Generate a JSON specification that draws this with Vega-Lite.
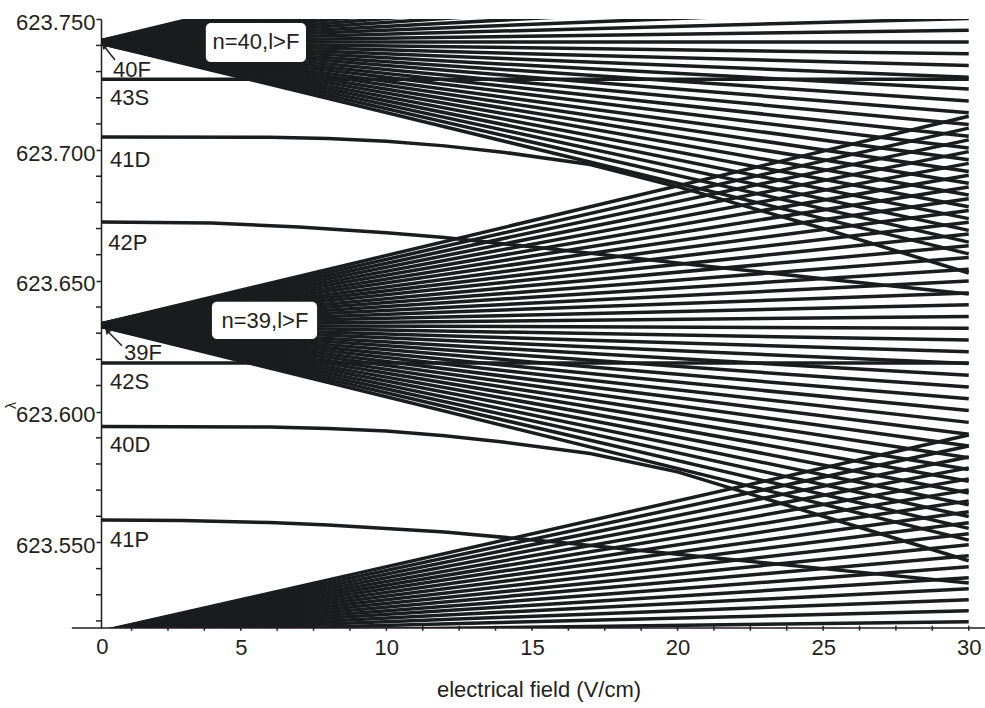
{
 "$schema": "https://vega.github.io/schema/vega-lite/v6.json",
 "width": 875, "height": 609,
 "autosize": {"type": "none"},
 "padding": {"left": 101, "top": 19, "right": 9, "bottom": 80},
 "background": "white",
 "config": {"view": {"stroke": null}, "font": "Liberation Sans"},
 "datasets": {
  "fan": [
   {"s":"a-18","F":0,"y":623.7413},{"s":"a-18","F":30,"y":623.6603},
   {"s":"a-17","F":0,"y":623.7413},{"s":"a-17","F":30,"y":623.6648},
   {"s":"a-16","F":0,"y":623.7413},{"s":"a-16","F":30,"y":623.6693},
   {"s":"a-15","F":0,"y":623.7413},{"s":"a-15","F":30,"y":623.6738},
   {"s":"a-14","F":0,"y":623.7413},{"s":"a-14","F":30,"y":623.6783},
   {"s":"a-13","F":0,"y":623.7413},{"s":"a-13","F":30,"y":623.6828},
   {"s":"a-12","F":0,"y":623.7413},{"s":"a-12","F":30,"y":623.6873},
   {"s":"a-11","F":0,"y":623.7413},{"s":"a-11","F":30,"y":623.6918},
   {"s":"a-10","F":0,"y":623.7413},{"s":"a-10","F":30,"y":623.6963},
   {"s":"a-9","F":0,"y":623.7413},{"s":"a-9","F":30,"y":623.7008},
   {"s":"a-8","F":0,"y":623.7413},{"s":"a-8","F":30,"y":623.7053},
   {"s":"a-7","F":0,"y":623.7413},{"s":"a-7","F":30,"y":623.7098},
   {"s":"a-6","F":0,"y":623.7413},{"s":"a-6","F":30,"y":623.7143},
   {"s":"a-5","F":0,"y":623.7413},{"s":"a-5","F":30,"y":623.7188},
   {"s":"a-4","F":0,"y":623.7413},{"s":"a-4","F":30,"y":623.7233},
   {"s":"a-3","F":0,"y":623.7413},{"s":"a-3","F":30,"y":623.7278},
   {"s":"a-2","F":0,"y":623.7413},{"s":"a-2","F":30,"y":623.7323},
   {"s":"a-1","F":0,"y":623.7413},{"s":"a-1","F":30,"y":623.7368},
   {"s":"a0","F":0,"y":623.7413},{"s":"a0","F":30,"y":623.7413},
   {"s":"a1","F":0,"y":623.7413},{"s":"a1","F":30,"y":623.7458},
   {"s":"a2","F":0,"y":623.7413},{"s":"a2","F":30,"y":623.7503},
   {"s":"a3","F":0,"y":623.7413},{"s":"a3","F":30,"y":623.7548},
   {"s":"a4","F":0,"y":623.7413},{"s":"a4","F":30,"y":623.7593},
   {"s":"a5","F":0,"y":623.7413},{"s":"a5","F":30,"y":623.7638},
   {"s":"a6","F":0,"y":623.7413},{"s":"a6","F":30,"y":623.7683},
   {"s":"a7","F":0,"y":623.7413},{"s":"a7","F":30,"y":623.7728},
   {"s":"a8","F":0,"y":623.7413},{"s":"a8","F":30,"y":623.7773},
   {"s":"a9","F":0,"y":623.7413},{"s":"a9","F":30,"y":623.7818},
   {"s":"a10","F":0,"y":623.7413},{"s":"a10","F":30,"y":623.7863},
   {"s":"a11","F":0,"y":623.7413},{"s":"a11","F":30,"y":623.7908},
   {"s":"a12","F":0,"y":623.7413},{"s":"a12","F":30,"y":623.7953},
   {"s":"a13","F":0,"y":623.7413},{"s":"a13","F":30,"y":623.7998},
   {"s":"a14","F":0,"y":623.7413},{"s":"a14","F":30,"y":623.8043},
   {"s":"a15","F":0,"y":623.7413},{"s":"a15","F":30,"y":623.8088},
   {"s":"a16","F":0,"y":623.7413},{"s":"a16","F":30,"y":623.8133},
   {"s":"a17","F":0,"y":623.7413},{"s":"a17","F":30,"y":623.8178},
   {"s":"a18","F":0,"y":623.7413},{"s":"a18","F":30,"y":623.8223},
   {"s":"b-18","F":0,"y":623.6331},{"s":"b-18","F":30,"y":623.5509},
   {"s":"b-17","F":0,"y":623.6331},{"s":"b-17","F":30,"y":623.5554},
   {"s":"b-16","F":0,"y":623.6331},{"s":"b-16","F":30,"y":623.5599},
   {"s":"b-15","F":0,"y":623.6331},{"s":"b-15","F":30,"y":623.5644},
   {"s":"b-14","F":0,"y":623.6331},{"s":"b-14","F":30,"y":623.5689},
   {"s":"b-13","F":0,"y":623.6331},{"s":"b-13","F":30,"y":623.5734},
   {"s":"b-12","F":0,"y":623.6331},{"s":"b-12","F":30,"y":623.5779},
   {"s":"b-11","F":0,"y":623.6331},{"s":"b-11","F":30,"y":623.5824},
   {"s":"b-10","F":0,"y":623.6331},{"s":"b-10","F":30,"y":623.5869},
   {"s":"b-9","F":0,"y":623.6331},{"s":"b-9","F":30,"y":623.5914},
   {"s":"b-8","F":0,"y":623.6331},{"s":"b-8","F":30,"y":623.5959},
   {"s":"b-7","F":0,"y":623.6331},{"s":"b-7","F":30,"y":623.6004},
   {"s":"b-6","F":0,"y":623.6331},{"s":"b-6","F":30,"y":623.6049},
   {"s":"b-5","F":0,"y":623.6331},{"s":"b-5","F":30,"y":623.6094},
   {"s":"b-4","F":0,"y":623.6331},{"s":"b-4","F":30,"y":623.6139},
   {"s":"b-3","F":0,"y":623.6331},{"s":"b-3","F":30,"y":623.6184},
   {"s":"b-2","F":0,"y":623.6331},{"s":"b-2","F":30,"y":623.6229},
   {"s":"b-1","F":0,"y":623.6331},{"s":"b-1","F":30,"y":623.6274},
   {"s":"b0","F":0,"y":623.6331},{"s":"b0","F":30,"y":623.6319},
   {"s":"b1","F":0,"y":623.6331},{"s":"b1","F":30,"y":623.6364},
   {"s":"b2","F":0,"y":623.6331},{"s":"b2","F":30,"y":623.6409},
   {"s":"b3","F":0,"y":623.6331},{"s":"b3","F":30,"y":623.6454},
   {"s":"b4","F":0,"y":623.6331},{"s":"b4","F":30,"y":623.6499},
   {"s":"b5","F":0,"y":623.6331},{"s":"b5","F":30,"y":623.6544},
   {"s":"b6","F":0,"y":623.6331},{"s":"b6","F":30,"y":623.6589},
   {"s":"b7","F":0,"y":623.6331},{"s":"b7","F":30,"y":623.6634},
   {"s":"b8","F":0,"y":623.6331},{"s":"b8","F":30,"y":623.6679},
   {"s":"b9","F":0,"y":623.6331},{"s":"b9","F":30,"y":623.6724},
   {"s":"b10","F":0,"y":623.6331},{"s":"b10","F":30,"y":623.6769},
   {"s":"b11","F":0,"y":623.6331},{"s":"b11","F":30,"y":623.6814},
   {"s":"b12","F":0,"y":623.6331},{"s":"b12","F":30,"y":623.6859},
   {"s":"b13","F":0,"y":623.6331},{"s":"b13","F":30,"y":623.6904},
   {"s":"b14","F":0,"y":623.6331},{"s":"b14","F":30,"y":623.6949},
   {"s":"b15","F":0,"y":623.6331},{"s":"b15","F":30,"y":623.6994},
   {"s":"b16","F":0,"y":623.6331},{"s":"b16","F":30,"y":623.7039},
   {"s":"b17","F":0,"y":623.6331},{"s":"b17","F":30,"y":623.7084},
   {"s":"b18","F":0,"y":623.6331},{"s":"b18","F":30,"y":623.7129},
   {"s":"c1","F":0,"y":623.5155},{"s":"c1","F":30,"y":623.5197},
   {"s":"c2","F":0,"y":623.5155},{"s":"c2","F":30,"y":623.5239},
   {"s":"c3","F":0,"y":623.5155},{"s":"c3","F":30,"y":623.5281},
   {"s":"c4","F":0,"y":623.5155},{"s":"c4","F":30,"y":623.5323},
   {"s":"c5","F":0,"y":623.5155},{"s":"c5","F":30,"y":623.5365},
   {"s":"c6","F":0,"y":623.5155},{"s":"c6","F":30,"y":623.5407},
   {"s":"c7","F":0,"y":623.5155},{"s":"c7","F":30,"y":623.5449},
   {"s":"c8","F":0,"y":623.5155},{"s":"c8","F":30,"y":623.5491},
   {"s":"c9","F":0,"y":623.5155},{"s":"c9","F":30,"y":623.5533},
   {"s":"c10","F":0,"y":623.5155},{"s":"c10","F":30,"y":623.5575},
   {"s":"c11","F":0,"y":623.5155},{"s":"c11","F":30,"y":623.5617},
   {"s":"c12","F":0,"y":623.5155},{"s":"c12","F":30,"y":623.5659},
   {"s":"c13","F":0,"y":623.5155},{"s":"c13","F":30,"y":623.5701},
   {"s":"c14","F":0,"y":623.5155},{"s":"c14","F":30,"y":623.5743},
   {"s":"c15","F":0,"y":623.5155},{"s":"c15","F":30,"y":623.5785},
   {"s":"c16","F":0,"y":623.5155},{"s":"c16","F":30,"y":623.5827},
   {"s":"c17","F":0,"y":623.5155},{"s":"c17","F":30,"y":623.5869},
   {"s":"c18","F":0,"y":623.5155},{"s":"c18","F":30,"y":623.5911},
   {"s":"43S","F":0,"y":623.7271},{"s":"43S","F":30,"y":623.7271},
   {"s":"41D","F":0,"y":623.7050},{"s":"41D","F":6,"y":623.7049},{"s":"41D","F":8,"y":623.7044},{"s":"41D","F":10,"y":623.7034},{"s":"41D","F":12,"y":623.7016},{"s":"41D","F":14,"y":623.6992},{"s":"41D","F":17,"y":623.6945},{"s":"41D","F":20,"y":623.6860},{"s":"41D","F":25,"y":623.6700},{"s":"41D","F":30,"y":623.6530},
   {"s":"42P","F":0,"y":623.6725},{"s":"42P","F":4,"y":623.6721},{"s":"42P","F":7,"y":623.6706},{"s":"42P","F":10,"y":623.6684},{"s":"42P","F":12,"y":623.6666},{"s":"42P","F":16,"y":623.6618},{"s":"42P","F":20.7,"y":623.6560},{"s":"42P","F":25,"y":623.6508},{"s":"42P","F":30,"y":623.6450},
   {"s":"42S","F":0,"y":623.6186},{"s":"42S","F":30,"y":623.6186},
   {"s":"40D","F":0,"y":623.5943},{"s":"40D","F":6,"y":623.5941},{"s":"40D","F":8,"y":623.5936},{"s":"40D","F":10,"y":623.5926},{"s":"40D","F":12,"y":623.5908},{"s":"40D","F":14,"y":623.5884},{"s":"40D","F":17,"y":623.5840},{"s":"40D","F":20,"y":623.5770},{"s":"40D","F":25,"y":623.5600},{"s":"40D","F":30,"y":623.5430},
   {"s":"41P","F":0,"y":623.5586},{"s":"41P","F":3,"y":623.5584},{"s":"41P","F":6,"y":623.5576},{"s":"41P","F":8,"y":623.5567},{"s":"41P","F":12,"y":623.5540},{"s":"41P","F":16,"y":623.5500},{"s":"41P","F":20,"y":623.5455},{"s":"41P","F":25,"y":623.5400},{"s":"41P","F":30,"y":623.5345}
  ],
  "yminor": [
   {"v":623.52},{"v":623.53},{"v":623.54},{"v":623.56},{"v":623.57},{"v":623.58},{"v":623.59},
   {"v":623.61},{"v":623.62},{"v":623.63},{"v":623.64},{"v":623.66},{"v":623.67},{"v":623.68},{"v":623.69},
   {"v":623.71},{"v":623.72},{"v":623.73},{"v":623.74}
  ],
  "xticks": [
   {"v":1.25},{"v":2.5},{"v":3.75},{"v":5},{"v":6.25},{"v":7.5},{"v":8.75},{"v":10},{"v":11.25},{"v":12.5},{"v":13.75},{"v":15},
   {"v":16.25},{"v":17.5},{"v":18.75},{"v":20},{"v":21.25},{"v":22.5},{"v":23.75},{"v":25},{"v":26.25},{"v":27.5},{"v":28.75},{"v":30}
  ],
  "zero": [{"t":"0"}],
  "arrows": [
   {"F":0.68,"y":623.7344,"F2":0.30,"y2":623.7398},
   {"F":0.92,"y":623.6252,"F2":0.41,"y2":623.6309}
  ],
  "heads": [
   {"F":0.30,"y":623.7398},
   {"F":0.41,"y":623.6309}
  ],
  "boxes": [
   {"F":3.8,"F2":7.24,"y":623.7486,"y2":623.7337,"t":"n=40,l>F","Fc":5.52,"yc":623.7412},
   {"F":4.01,"F2":7.62,"y":623.6420,"y2":623.6278,"t":"n=39,l>F","Fc":5.83,"yc":623.6347}
  ],
  "labels": [
   {"t":"40F","F":0.61,"y":623.7306},
   {"t":"43S","F":0.51,"y":623.7199},
   {"t":"41D","F":0.51,"y":623.6962},
   {"t":"42P","F":0.45,"y":623.6645},
   {"t":"39F","F":0.99,"y":623.6225},
   {"t":"42S","F":0.51,"y":623.6112},
   {"t":"40D","F":0.51,"y":623.5873},
   {"t":"41P","F":0.51,"y":623.5510}
  ],
  "axisline": [
   {"F":-0.8,"F2":30.6,"y":623.5173}
  ]
 },
 "layer": [
  {
   "data": {"name": "fan"},
   "mark": {"type": "line", "clip": true, "strokeWidth": 3.5, "color": "#1b1c1e"},
   "encoding": {
    "x": {"field": "F", "type": "quantitative",
     "scale": {"domain": [0.2, 30.25], "nice": false, "zero": false},
     "axis": {"title": "electrical field (V/cm)", "grid": false, "domain": false, "ticks": false, "tickSize": 0,
      "values": [5, 10, 15, 20, 25, 30], "format": "d",
      "labelOverlap": false, "labelFlush": false,
      "labelFontSize": 22, "labelColor": "#231f20", "labelPadding": 9,
      "titleFontSize": 22, "titleFontWeight": "normal", "titleColor": "#231f20", "titlePadding": 21}},
    "y": {"field": "y", "type": "quantitative",
     "scale": {"domain": [623.5173, 623.7501], "nice": false, "zero": false},
     "axis": {"title": "λ", "grid": false,
      "values": [623.55, 623.6, 623.65, 623.7, 623.75], "format": ".3f",
      "labelOverlap": false, "labelFlush": false, "labelOffset": 3,
      "domainColor": "#231f20", "domainWidth": 1.5,
      "tickSize": 5, "tickWidth": 1.5, "tickColor": "#231f20",
      "labelFontSize": 22, "labelColor": "#231f20", "labelPadding": 1,
      "titleFontSize": 14, "titleFontWeight": "normal", "titleColor": "#231f20",
      "titleX": -83, "titleY": 386, "titleAngle": -90}},
    "detail": {"field": "s", "type": "nominal"}
   }
  },
  {
   "data": {"name": "axisline"},
   "mark": {"type": "rule", "clip": false, "strokeWidth": 1.5, "color": "#231f20"},
   "encoding": {
    "x": {"field": "F", "type": "quantitative"},
    "x2": {"field": "F2"},
    "y": {"field": "y", "type": "quantitative"}
   }
  },
  {
   "data": {"name": "yminor"},
   "mark": {"type": "rule", "clip": false, "strokeWidth": 1.5, "color": "#231f20"},
   "encoding": {
    "x": {"datum": 0.0284, "type": "quantitative"},
    "x2": {"datum": 0.2},
    "y": {"field": "v", "type": "quantitative"}
   }
  },
  {
   "data": {"name": "xticks"},
   "mark": {"type": "tick", "orient": "vertical", "clip": false, "thickness": 1.5, "size": 5, "color": "#231f20", "opacity": 1},
   "encoding": {
    "x": {"field": "v", "type": "quantitative"},
    "y": {"datum": 623.5172, "type": "quantitative"}
   }
  },
  {
   "data": {"name": "zero"},
   "mark": {"type": "text", "fontSize": 22, "color": "#231f20", "align": "center", "baseline": "top", "dy": 9, "clip": false},
   "encoding": {
    "x": {"datum": 0.25, "type": "quantitative"},
    "y": {"datum": 623.5173, "type": "quantitative"},
    "text": {"field": "t"}
   }
  },
  {
   "data": {"name": "arrows"},
   "mark": {"type": "rule", "strokeWidth": 1.5, "color": "#231f20"},
   "encoding": {
    "x": {"field": "F", "type": "quantitative"},
    "x2": {"field": "F2"},
    "y": {"field": "y", "type": "quantitative"},
    "y2": {"field": "y2"}
   }
  },
  {
   "data": {"name": "heads"},
   "mark": {"type": "point", "shape": "triangle-up", "filled": true, "size": 40, "angle": -40, "color": "#231f20", "opacity": 1},
   "encoding": {
    "x": {"field": "F", "type": "quantitative"},
    "y": {"field": "y", "type": "quantitative"}
   }
  },
  {
   "data": {"name": "boxes"},
   "mark": {"type": "rect", "fill": "white", "cornerRadius": 5},
   "encoding": {
    "x": {"field": "F", "type": "quantitative"},
    "x2": {"field": "F2"},
    "y": {"field": "y", "type": "quantitative"},
    "y2": {"field": "y2"}
   }
  },
  {
   "data": {"name": "boxes"},
   "mark": {"type": "text", "fontSize": 22, "color": "#231f20", "align": "center", "baseline": "middle"},
   "encoding": {
    "x": {"field": "Fc", "type": "quantitative"},
    "y": {"field": "yc", "type": "quantitative"},
    "text": {"field": "t"}
   }
  },
  {
   "data": {"name": "labels"},
   "mark": {"type": "text", "fontSize": 22, "color": "#231f20", "align": "left", "baseline": "middle"},
   "encoding": {
    "x": {"field": "F", "type": "quantitative"},
    "y": {"field": "y", "type": "quantitative"},
    "text": {"field": "t"}
   }
  }
 ]
}
